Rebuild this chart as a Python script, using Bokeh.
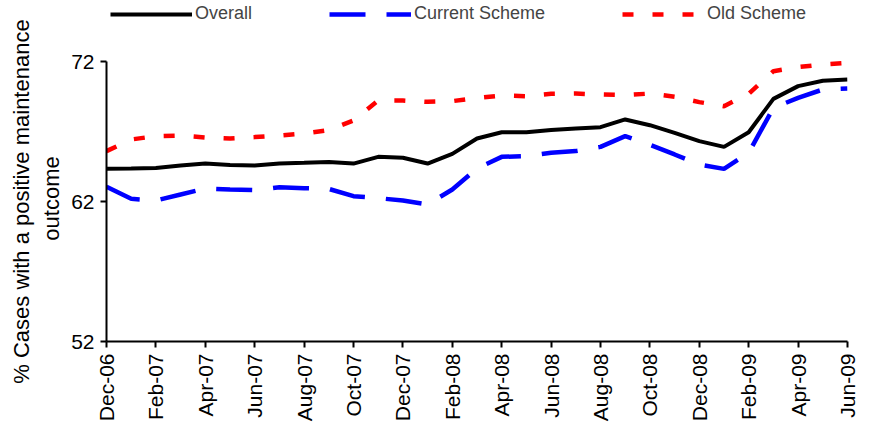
import math
from bokeh.plotting import figure
from bokeh.models import Range1d, FixedTicker, Legend, LegendItem
from bokeh.embed import file_html
from bokeh.resources import INLINE

months = ["Dec-06", "Jan-07", "Feb-07", "Mar-07", "Apr-07", "May-07", "Jun-07",
          "Jul-07", "Aug-07", "Sep-07", "Oct-07", "Nov-07", "Dec-07", "Jan-08",
          "Feb-08", "Mar-08", "Apr-08", "May-08", "Jun-08", "Jul-08", "Aug-08",
          "Sep-08", "Oct-08", "Nov-08", "Dec-08", "Jan-09", "Feb-09", "Mar-09",
          "Apr-09", "May-09", "Jun-09"]

overall = [64.34, 64.36, 64.40, 64.57, 64.71, 64.60, 64.57, 64.71, 64.76, 64.83,
           64.71, 65.19, 65.12, 64.71, 65.40, 66.50, 66.95, 66.95, 67.10, 67.21,
           67.31, 67.86, 67.45, 66.90, 66.31, 65.90, 66.95, 69.33, 70.24, 70.62,
           70.71]

current = [63.05, 62.19, 62.07, 62.50, 62.93, 62.86, 62.81, 63.02, 62.95, 62.90,
           62.38, 62.24, 62.07, 61.79, 62.86, 64.36, 65.19, 65.24, 65.48, 65.60,
           65.90, 66.67, 66.05, 65.36, 64.64, 64.33, 65.48, 68.69, 69.40, 70.00,
           70.07]

old = [65.60, 66.43, 66.67, 66.71, 66.57, 66.50, 66.60, 66.71, 66.86, 67.10,
       67.79, 69.21, 69.21, 69.12, 69.17, 69.40, 69.57, 69.52, 69.69, 69.71,
       69.64, 69.60, 69.71, 69.48, 69.10, 68.81, 69.69, 71.31, 71.60, 71.79,
       71.90]

y_ticks = [52, 62, 72]
series_labels = ["Overall", "Current Scheme", "Old Scheme"]
y_title = ["% Cases with a positive maintenance", "outcome"]

FONT = "Liberation Sans"
W, H = 868, 424
TOP_GAP = 61        # px between canvas top and the 72 line (legend lives here)
FRAME_H = 341       # frame spans canvas 0 .. FRAME_H
px_per_unit = (FRAME_H - TOP_GAP) / (y_ticks[-1] - y_ticks[0])
y_top = y_ticks[-1] + TOP_GAP / px_per_unit

x = list(range(len(months)))
p = figure(width=W, height=H, output_backend="svg", toolbar_location=None,
           title_location=None,
           x_range=Range1d(0, len(months) - 1), y_range=Range1d(y_ticks[0], y_top),
           min_border_left=106, min_border_right=21, min_border_top=0,
           min_border_bottom=H - FRAME_H)
p.outline_line_color = None
p.grid.visible = False

r_all = p.line(x, overall, line_color="#000000", line_width=4)
r_cur = p.line(x, current, line_color="#0000ff", line_width=4.5, line_dash="36 21")
r_old = p.line(x, old, line_color="#ff0000", line_width=4.5, line_dash="11 19")

xa = p.xaxis[0]
xa.ticker = FixedTicker(ticks=list(range(0, len(months), 2)))
xa.major_label_overrides = {i: months[i] for i in range(0, len(months), 2)}
xa.major_label_orientation = math.pi / 2
xa.major_label_standoff = 6
xa.major_tick_out = 6
xa.major_tick_in = 0
xa.minor_tick_out = 0
xa.minor_tick_in = 0
xa.axis_line_width = 2
xa.major_tick_line_width = 2
xa.major_label_text_font = FONT
xa.major_label_text_font_size = "21px"
xa.major_label_text_color = "black"

ya = p.yaxis[0]
ya.bounds = (y_ticks[0], y_ticks[-1])
ya.ticker = FixedTicker(ticks=y_ticks)
ya.major_label_standoff = 6
ya.major_tick_out = 6
ya.major_tick_in = 0
ya.minor_tick_out = 0
ya.minor_tick_in = 0
ya.axis_line_width = 2
ya.major_tick_line_width = 2
ya.major_label_text_font = FONT
ya.major_label_text_font_size = "21px"
ya.major_label_text_color = "black"
# the axis title is centred on the whole frame (which also holds the legend);
# trailing no-break spaces move it down to sit beside the 52..72 axis
NBSP = "\u00a0"
ya.axis_label = y_title[0] + NBSP * 10 + "\n" + y_title[1] + NBSP * 9
ya.axis_label_text_font = FONT
ya.axis_label_text_font_size = "22px"
ya.axis_label_text_font_style = "normal"
ya.axis_label_text_color = "black"
ya.axis_label_standoff = 4

legend = Legend(items=[LegendItem(label=series_labels[0], renderers=[r_all]),
                       LegendItem(label=series_labels[1], renderers=[r_cur]),
                       LegendItem(label=series_labels[2], renderers=[r_old])],
                orientation="horizontal", location=(4, FRAME_H - 24),
                glyph_width=82, glyph_height=16, label_standoff=3, spacing=77,
                padding=0, margin=0, border_line_color=None,
                background_fill_alpha=0, label_text_font=FONT,
                label_text_font_size="18px", label_height=16)
p.add_layout(legend, "center")

open("out.html", "w").write(file_html(p, INLINE))
